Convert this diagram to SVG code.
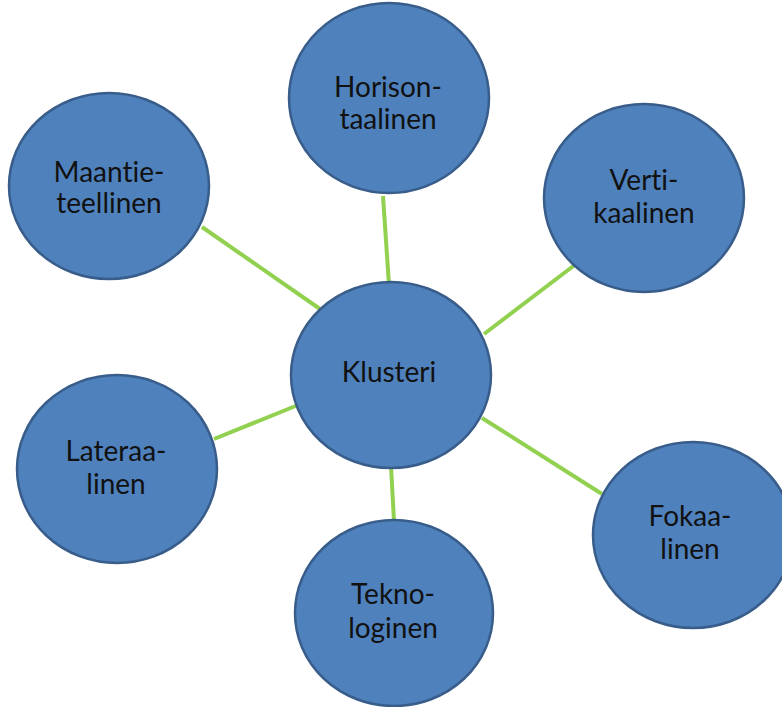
<svg xmlns="http://www.w3.org/2000/svg" width="782" height="707" viewBox="0 0 782 707">
  <style>
    .node ellipse { fill: #4F81BD; stroke: #385D8A; stroke-width: 2.5; }
    .node text { font-family: Lato, "Open Sans", "Liberation Sans", sans-serif; font-size: 28px; fill: #111111; text-anchor: middle; font-variant-ligatures: none; }
    .edges line { stroke: #92D050; stroke-width: 4; stroke-linecap: butt; }
  </style>
  <rect width="782" height="707" fill="#ffffff"/>

  <!-- spokes from the centre cluster to each type -->
  <g id="connectors" class="edges">
    <line x1="383" y1="196" x2="389" y2="285"/>
    <line x1="576" y1="264" x2="484" y2="334"/>
    <line x1="202" y1="227" x2="320" y2="309"/>
    <line x1="214" y1="439" x2="298" y2="405"/>
    <line x1="391" y1="466" x2="394" y2="521"/>
    <line x1="482" y1="418" x2="602" y2="494"/>
  </g>

  <g id="klusteri" class="node">
    <ellipse cx="391" cy="375" rx="100" ry="93"/>
    <text x="389" y="382">Klusteri</text>
  </g>

  <g id="horisontaalinen" class="node">
    <ellipse cx="389" cy="98" rx="100" ry="95"/>
    <text x="388" y="97">Horison-</text>
    <text x="388" y="129">taalinen</text>
  </g>

  <g id="vertikaalinen" class="node">
    <ellipse cx="644" cy="198" rx="100" ry="94"/>
    <text x="644" y="190">Verti-</text>
    <text x="644" y="223">kaalinen</text>
  </g>

  <g id="maantieteellinen" class="node">
    <ellipse cx="109" cy="186" rx="100" ry="93"/>
    <text x="109" y="182">Maantie-</text>
    <text x="109" y="213">teellinen</text>
  </g>

  <g id="lateraalinen" class="node">
    <ellipse cx="117" cy="469" rx="100" ry="94"/>
    <text x="116" y="461">Lateraa-</text>
    <text x="116" y="494">linen</text>
  </g>

  <g id="teknologinen" class="node">
    <ellipse cx="394" cy="613" rx="99" ry="93"/>
    <text x="393" y="604">Tekno-</text>
    <text x="393" y="638">loginen</text>
  </g>

  <g id="fokaalinen" class="node">
    <ellipse cx="693" cy="535" rx="100" ry="93"/>
    <text x="690" y="526">Fokaa-</text>
    <text x="690" y="559">linen</text>
  </g>
</svg>
